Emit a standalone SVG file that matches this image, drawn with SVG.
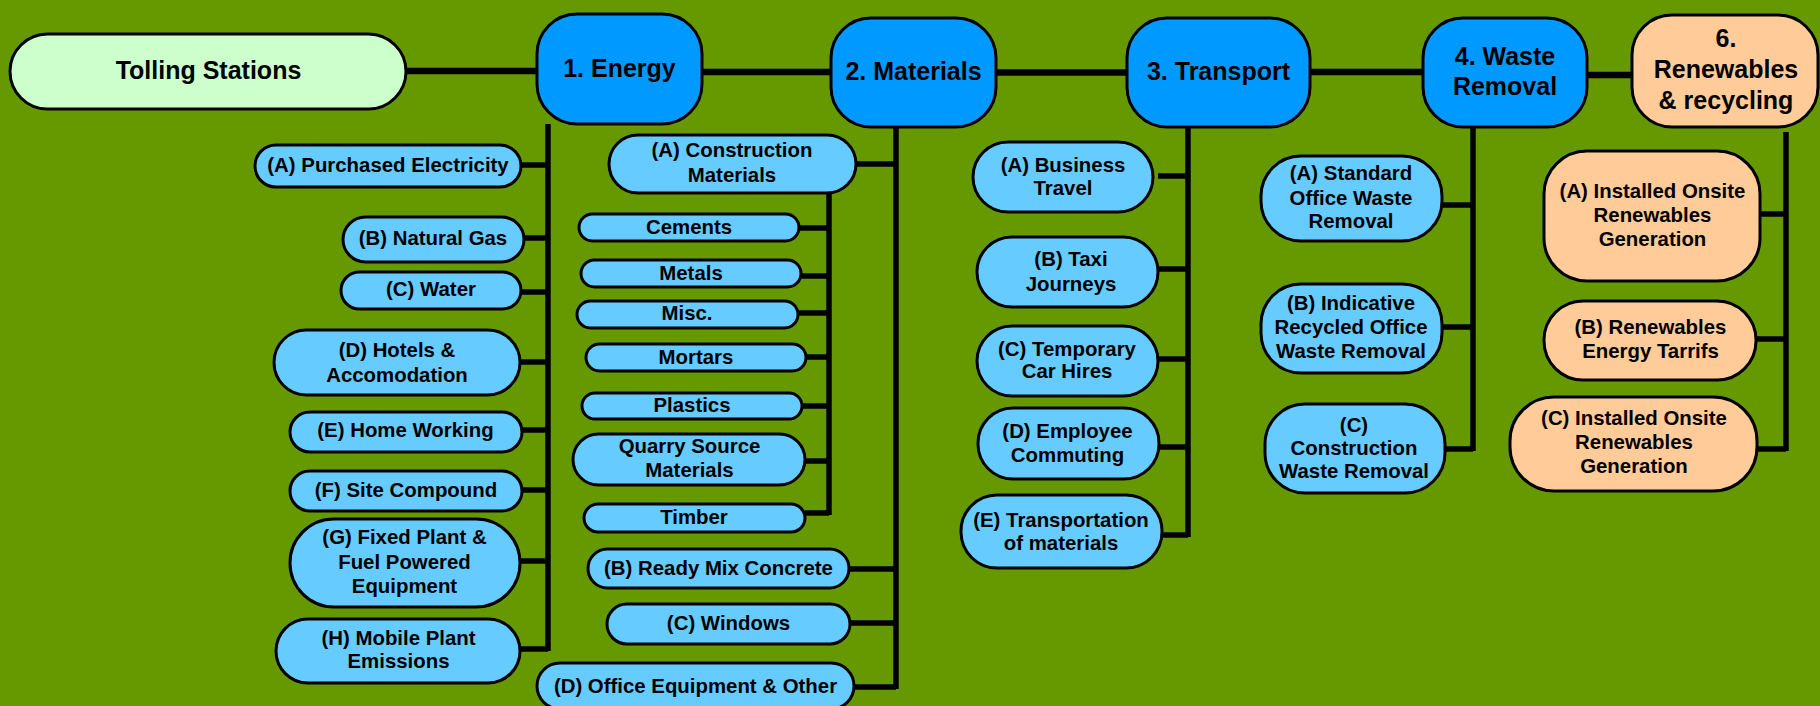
<svg xmlns="http://www.w3.org/2000/svg" width="1820" height="706" viewBox="0 0 1820 706">
  <style>
    .n rect{stroke:#000;stroke-width:3}
    .root rect{fill:#ccffcc}
    .main rect{fill:#0099ff}
    .sub rect{fill:#66ccff}
    .ren rect{fill:#ffcc99}
    text{font-family:"Liberation Sans",Arial,sans-serif;font-weight:bold;fill:#000;text-anchor:middle}
    .root text,.main text,.ren.main text{font-size:25px}
    .sub text,.ren text{font-size:20.4px}
    #links path{stroke:#000;stroke-width:5.5;fill:none}
    #links path.spine{stroke-width:6.5}
  </style>
  <rect width="1820" height="706" fill="#669900"/>

  <!-- connectors -->
  <g id="links">
    <path class="spine" d="M406 71H537M702 72H831M996 72.5H1127M1310 72H1423M1587 75H1632"/>
    <!-- energy branch -->
    <path d="M548 124V651M521 165H548M524 238H548M521 292H548M520 362H548M522 430H548M522 490H548M520 561H548M520 649H548"/>
    <!-- materials branch -->
    <path d="M896 127V689M856 164H896M849 569H896M850 623H896M854 687H896"/>
    <path d="M829 193V515M799 228H829M801 276H829M798 313H829M806 357H829M802 406H829M806 461H829M805 513H829"/>
    <!-- transport branch -->
    <path d="M1188 127V537M1158 176H1188M1158 269H1188M1158 359H1188M1159 447H1188M1162 535H1188"/>
    <!-- waste branch -->
    <path d="M1473 127V451M1442 205H1473M1442 327H1473M1445 449H1473"/>
    <!-- renewables branch -->
    <path d="M1786 132V451M1760 214H1786M1756 339H1786M1757 449H1786"/>
  </g>

  <g id="tolling" class="n root"><rect x="10" y="34" width="396" height="75" rx="37.5"/><text x="208.5" y="79">Tolling Stations</text></g>

  <g id="energy" class="n main"><rect x="537" y="14" width="165" height="110" rx="40"/><text x="619.5" y="77">1. Energy</text></g>
  <g id="materials" class="n main"><rect x="831" y="18" width="165" height="109" rx="40"/><text x="913.5" y="80">2. Materials</text></g>
  <g id="transport" class="n main"><rect x="1127" y="18" width="183" height="109" rx="40"/><text x="1218.5" y="80">3. Transport</text></g>
  <g id="waste" class="n main"><rect x="1423" y="18" width="164" height="109" rx="40"/><text><tspan x="1505" y="65">4. Waste</tspan><tspan x="1505" y="95">Removal</tspan></text></g>
  <g id="renewables" class="n main ren"><rect x="1632" y="15" width="186" height="112" rx="40"/><text><tspan x="1726" y="47">6.</tspan><tspan x="1726" y="78">Renewables</tspan><tspan x="1726" y="109">&amp; recycling</tspan></text></g>

  <!-- energy items -->
  <g id="e-a" class="n sub"><rect x="255" y="145" width="266" height="42" rx="21"/><text x="388" y="172">(A) Purchased Electricity</text></g>
  <g id="e-b" class="n sub"><rect x="343" y="217" width="181" height="45" rx="22.5"/><text x="433" y="245">(B) Natural Gas</text></g>
  <g id="e-c" class="n sub"><rect x="341" y="272" width="180" height="37" rx="18.5"/><text x="431" y="296">(C) Water</text></g>
  <g id="e-d" class="n sub"><rect x="274" y="330" width="246" height="65" rx="32.5"/><text><tspan x="397" y="357">(D) Hotels &amp;</tspan><tspan x="397" y="382">Accomodation</tspan></text></g>
  <g id="e-e" class="n sub"><rect x="290" y="412" width="232" height="40" rx="20"/><text x="405.5" y="437">(E) Home Working</text></g>
  <g id="e-f" class="n sub"><rect x="290" y="471" width="232" height="40" rx="20"/><text x="406" y="497">(F) Site Compound</text></g>
  <g id="e-g" class="n sub"><rect x="290" y="519" width="230" height="88" rx="44"/><text><tspan x="404.5" y="544">(G) Fixed Plant &amp;</tspan><tspan x="404.5" y="569">Fuel Powered</tspan><tspan x="404.5" y="593">Equipment</tspan></text></g>
  <g id="e-h" class="n sub"><rect x="276" y="619" width="244" height="64" rx="32"/><text><tspan x="398.5" y="645">(H) Mobile Plant</tspan><tspan x="398.5" y="668">Emissions</tspan></text></g>

  <!-- materials items -->
  <g id="m-a" class="n sub"><rect x="609" y="135" width="247" height="58" rx="29"/><text><tspan x="732" y="157">(A) Construction</tspan><tspan x="732" y="182">Materials</tspan></text></g>
  <g id="m-cements" class="n sub"><rect x="579" y="214" width="220" height="27" rx="13.5"/><text x="689" y="234">Cements</text></g>
  <g id="m-metals" class="n sub"><rect x="581" y="260" width="220" height="27" rx="13.5"/><text x="691" y="279.5">Metals</text></g>
  <g id="m-misc" class="n sub"><rect x="577" y="301" width="221" height="27" rx="13.5"/><text x="687" y="320">Misc.</text></g>
  <g id="m-mortars" class="n sub"><rect x="586" y="344" width="220" height="27" rx="13.5"/><text x="696" y="364">Mortars</text></g>
  <g id="m-plastics" class="n sub"><rect x="582" y="393" width="220" height="26" rx="13"/><text x="692" y="412">Plastics</text></g>
  <g id="m-quarry" class="n sub"><rect x="573" y="434" width="232" height="51" rx="25.5"/><text><tspan x="689.5" y="453">Quarry Source</tspan><tspan x="689.5" y="477">Materials</tspan></text></g>
  <g id="m-timber" class="n sub"><rect x="584" y="504" width="221" height="28" rx="14"/><text x="694" y="524">Timber</text></g>
  <g id="m-b" class="n sub"><rect x="588" y="549" width="261" height="39" rx="19.5"/><text x="718.5" y="575">(B) Ready Mix Concrete</text></g>
  <g id="m-c" class="n sub"><rect x="607" y="604" width="243" height="40" rx="20"/><text x="728.5" y="630">(C) Windows</text></g>
  <g id="m-d" class="n sub"><rect x="537" y="663" width="317" height="46" rx="23"/><text x="695.5" y="693">(D) Office Equipment &amp; Other</text></g>

  <!-- transport items -->
  <g id="t-a" class="n sub"><rect x="973" y="142" width="180" height="70" rx="35"/><text><tspan x="1063" y="172">(A) Business</tspan><tspan x="1063" y="195">Travel</tspan></text></g>
  <g id="t-b" class="n sub"><rect x="977" y="237" width="181" height="70" rx="35"/><text><tspan x="1071" y="266">(B) Taxi</tspan><tspan x="1071" y="291">Journeys</tspan></text></g>
  <g id="t-c" class="n sub"><rect x="977" y="326" width="181" height="70" rx="35"/><text><tspan x="1067" y="356">(C) Temporary</tspan><tspan x="1067" y="378">Car Hires</tspan></text></g>
  <g id="t-d" class="n sub"><rect x="978" y="408" width="181" height="71" rx="35"/><text><tspan x="1067.5" y="438">(D) Employee</tspan><tspan x="1067.5" y="462">Commuting</tspan></text></g>
  <g id="t-e" class="n sub"><rect x="961" y="495" width="201" height="73" rx="36"/><text><tspan x="1061" y="527">(E) Transportation</tspan><tspan x="1061" y="550">of materials</tspan></text></g>

  <!-- waste items -->
  <g id="w-a" class="n sub"><rect x="1261" y="156" width="181" height="85" rx="40"/><text><tspan x="1351" y="180">(A) Standard</tspan><tspan x="1351" y="205">Office Waste</tspan><tspan x="1351" y="228">Removal</tspan></text></g>
  <g id="w-b" class="n sub"><rect x="1261" y="284" width="181" height="89" rx="40"/><text><tspan x="1351" y="310">(B) Indicative</tspan><tspan x="1351" y="334">Recycled Office</tspan><tspan x="1351" y="358">Waste Removal</tspan></text></g>
  <g id="w-c" class="n sub"><rect x="1265" y="404" width="180" height="89" rx="40"/><text><tspan x="1354" y="432">(C)</tspan><tspan x="1354" y="455">Construction</tspan><tspan x="1354" y="478">Waste Removal</tspan></text></g>

  <!-- renewables items -->
  <g id="r-a" class="n ren"><rect x="1544" y="151" width="216" height="130" rx="43"/><text><tspan x="1652.5" y="198">(A) Installed Onsite</tspan><tspan x="1652.5" y="222">Renewables</tspan><tspan x="1652.5" y="246">Generation</tspan></text></g>
  <g id="r-b" class="n ren"><rect x="1544" y="301" width="212" height="79" rx="39"/><text><tspan x="1650.5" y="334">(B) Renewables</tspan><tspan x="1650.5" y="358">Energy Tarrifs</tspan></text></g>
  <g id="r-c" class="n ren"><rect x="1510" y="397" width="247" height="94" rx="44"/><text><tspan x="1634" y="425">(C) Installed Onsite</tspan><tspan x="1634" y="449">Renewables</tspan><tspan x="1634" y="473">Generation</tspan></text></g>
</svg>
